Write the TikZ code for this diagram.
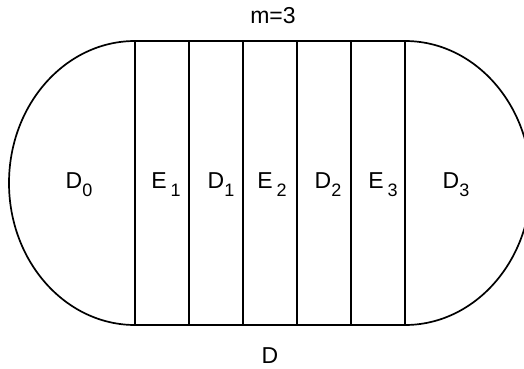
\documentclass[tikz,border=0pt]{standalone}
\usepackage{fontspec}
\setmainfont{Liberation Sans}
\usetikzlibrary{positioning}

\newcommand{\regsub}[2]{#1\raisebox{-8pt}{\fontsize{18}{18}\selectfont #2}}
\newcommand{\stripsub}[2]{#1\kern4pt\raisebox{-8pt}{\fontsize{18}{18}\selectfont #2}}

\begin{document}
\begin{tikzpicture}[x=1pt, y=1pt,
  outline/.style={line width=1.7pt, line join=round},
  cut/.style={line width=1.6pt},
  lbl/.style={anchor=base, inner sep=0pt, font=\fontsize{23}{27}\selectfont}
]
\useasboundingbox (0,0) rectangle (524,368);

%% boundary of D
\draw[outline] (135,327) -- (405,327)
  arc[start angle=90, end angle=-90, x radius=126, y radius=142]
  -- (135,43)
  arc[start angle=270, end angle=90, x radius=126, y radius=142] -- cycle;

%% strips
\foreach \x in {135,189,243,297,351,405}
  \draw[cut] (\x,327) -- (\x,43);

%% regions
\node[lbl] (d0) at (79,180)  {\regsub{D}{0}};
\node[lbl] (e1) at (166,180) {\stripsub{E}{1}};
\node[lbl] (d1) at (221,180) {\regsub{D}{1}};
\node[lbl] (e2) at (272,180) {\stripsub{E}{2}};
\node[lbl] (d2) at (328,180) {\regsub{D}{2}};
\node[lbl] (e3) at (383,180) {\stripsub{E}{3}};
\node[lbl] (d3) at (456,180) {\regsub{D}{3}};

\node[lbl] (mval) at (273,345) {m=3};
\node[lbl] (dom)  at (270,5)   {D};
\end{tikzpicture}
\end{document}
